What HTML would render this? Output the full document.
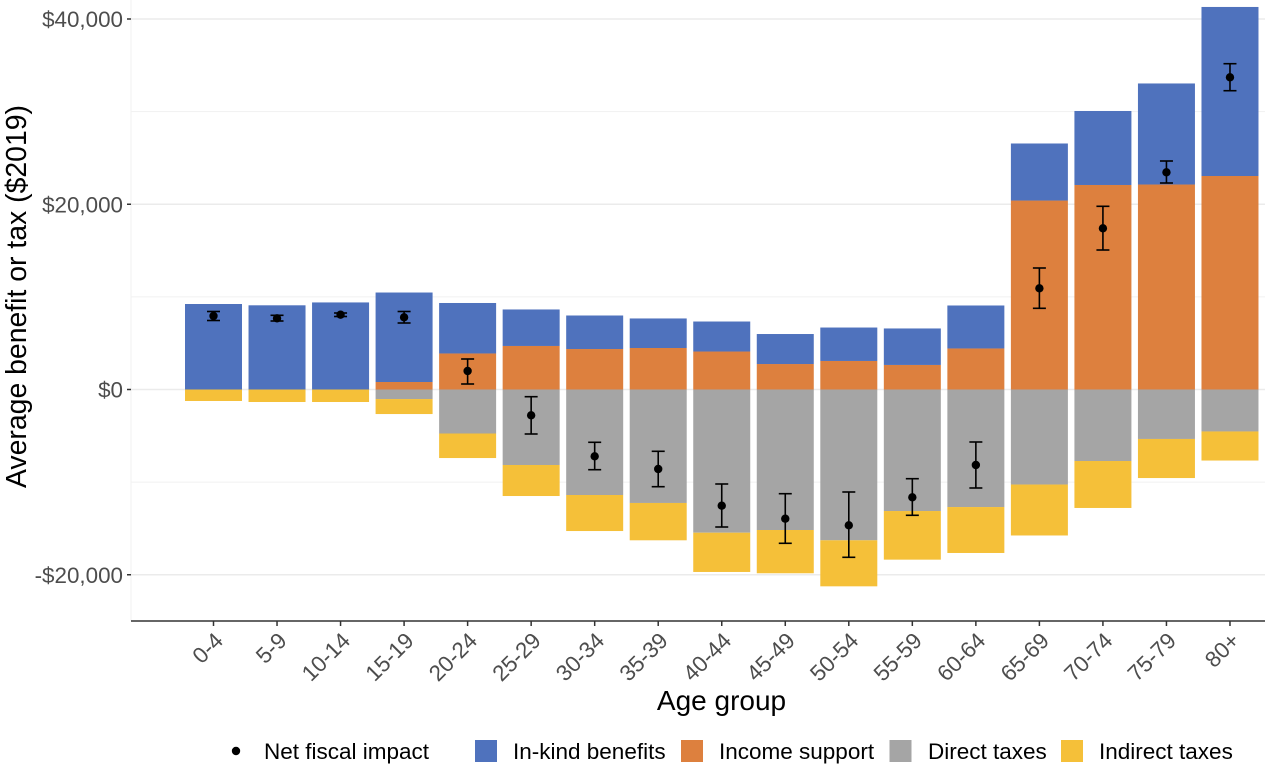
<!DOCTYPE html>
<html>
<head>
<meta charset="utf-8">
<title>Average benefit or tax by age group</title>
<style>
html,body{margin:0;padding:0;background:#fff;width:1265px;height:770px;overflow:hidden}
svg{display:block;font-family:"Liberation Sans",sans-serif;filter:blur(0.35px)}
</style>
</head>
<body>
<svg id="chart" xmlns="http://www.w3.org/2000/svg" width="1265" height="770" viewBox="0 0 1265 770">
  <rect x="0" y="0" width="1265" height="770" fill="#fff"/>
  <g id="grid"></g>
  <g id="bars"></g>
  <g id="points"></g>
  <g id="axes"></g>
  <text transform="translate(26,296.5) rotate(-90)" text-anchor="middle" font-size="28.4" fill="#000">Average benefit or tax ($2019)</text>
  <text x="721.5" y="710" text-anchor="middle" font-size="28" fill="#000">Age group</text>
  <g>
    <g>
      <circle cx="236" cy="751" r="4.2" fill="#000"/>
      <text x="264" y="759" font-size="22.5" fill="#000">Net fiscal impact</text>
    </g>
    <g>
      <rect x="475" y="740" width="22" height="22" fill="#4f72bd"/>
      <text x="513" y="759" font-size="22.5" fill="#000">In-kind benefits</text>
    </g>
    <g>
      <rect x="681" y="740" width="22" height="22" fill="#dd803e"/>
      <text x="719" y="759" font-size="22.5" fill="#000">Income support</text>
    </g>
    <g>
      <rect x="889.5" y="740" width="22" height="22" fill="#a5a5a5"/>
      <text x="928" y="759" font-size="22.5" fill="#000">Direct taxes</text>
    </g>
    <g>
      <rect x="1061" y="740" width="22" height="22" fill="#f5c039"/>
      <text x="1099" y="759" font-size="22.5" fill="#000">Indirect taxes</text>
    </g>
  </g>
</svg>
<script>
const categories = ["0-4","5-9","10-14","15-19","20-24","25-29","30-34","35-39","40-44","45-49","50-54","55-59","60-64","65-69","70-74","75-79","80+"];
const incomeSupport = [0,0,0,810,3890,4700,4370,4480,4100,2750,3080,2650,4430,20400,22080,22130,23050];
const inKindBenefits = [9230,9090,9400,9660,5450,3940,3620,3190,3240,3240,3610,3940,4640,6160,7990,10910,18250];
const directTaxes = [0,0,0,-1030,-4750,-8150,-11390,-12250,-15460,-15170,-16280,-13120,-12690,-10260,-7720,-5340,-4530];
const indirectTaxes = [-1240,-1350,-1350,-1620,-2650,-3350,-3890,-4030,-4240,-4670,-4970,-5250,-4960,-5500,-5070,-4220,-3140];
const netImpact = [7935,7687,8076,7795,1997,-2785,-7212,-8583,-12545,-13948,-14661,-11638,-8151,10925,17403,23449,33705];
const netUpper = [8421,8011,8259,8421,3293,-777,-5700,-6672,-10202,-11250,-11066,-9630,-5668,13117,19778,24669,35173];
const netLower = [7449,7395,7881,7179,594,-4804,-8658,-10494,-14845,-16604,-18116,-13581,-10634,8766,15060,22294,32258];
const majorTicks = [-20000,0,20000,40000];
const minorTicks = [-10000,10000,30000];
const tickLabels = ["-$20,000","$0","$20,000","$40,000"];

const NS = "http://www.w3.org/2000/svg";
const colors = {inKind:"#4f72bd", income:"#dd803e", direct:"#a5a5a5", indirect:"#f5c039"};
const panelLeft = 131, panelRight = 1265, panelBottom = 621;
const barWidth = 57;

function xScale(i){ return 213.5 + i * 63.53; }
function yScale(v){ return 389.5 - v * 0.0092625; }
function make(tag, parent, attrs){
  const el = document.createElementNS(NS, tag);
  for (const k in attrs) el.setAttribute(k, attrs[k]);
  parent.appendChild(el);
  return el;
}
function slug(s){ return s.replace(/\+/g, "-plus"); }

const grid = document.getElementById("grid");
const bars = document.getElementById("bars");
const points = document.getElementById("points");
const axes = document.getElementById("axes");

/* panel edge */
const edge = make("line", grid, {x1:panelLeft, x2:panelLeft, y1:0, y2:panelBottom, stroke:"#f0f0f0", "stroke-width":1});



minorTicks.forEach(function(v){
  const l = make("line", grid, {x1:panelLeft, x2:panelRight, y1:yScale(v), y2:yScale(v), stroke:"#f1f1f1", "stroke-width":1});
  
  
});
majorTicks.forEach(function(v, i){
  const y = yScale(v);
  const l = make("line", grid, {x1:panelLeft, x2:panelRight, y1:y, y2:y, stroke:"#ebebeb", "stroke-width":1.6});
  
  
  const t = make("line", axes, {x1:panelLeft-4, x2:panelLeft, y1:y, y2:y, stroke:"#333", "stroke-width":1.5});
  
  
  const lab = make("text", axes, {x:panelLeft-8, y:y+8, "text-anchor":"end", "font-size":22.4, fill:"#4d4d4d"});
  lab.textContent = tickLabels[i];
  
  
});

function segment(i, from, to, color, name){
  if (from === to) return;
  const y1 = yScale(Math.max(from, to)), y2 = yScale(Math.min(from, to));
  const r = make("rect", bars, {x:xScale(i)-barWidth/2, y:y1, width:barWidth, height:y2-y1, fill:color});
  
  
}

categories.forEach(function(cat, i){
  segment(i, 0, incomeSupport[i], colors.income, 'income-support');
  segment(i, incomeSupport[i], incomeSupport[i] + inKindBenefits[i], colors.inKind, 'in-kind-benefits');
  segment(i, 0, directTaxes[i], colors.direct, 'direct-taxes');
  segment(i, directTaxes[i], directTaxes[i] + indirectTaxes[i], colors.indirect, 'indirect-taxes');

  const x = xScale(i);
  const stem = make("line", points, {x1:x, x2:x, y1:yScale(netUpper[i]), y2:yScale(netLower[i]), stroke:"#000", "stroke-width":1.6});
  
  
  const capTop = make("line", points, {x1:x-6.5, x2:x+6.5, y1:yScale(netUpper[i]), y2:yScale(netUpper[i]), stroke:"#000", "stroke-width":1.6});
  
  
  const capBottom = make("line", points, {x1:x-6.5, x2:x+6.5, y1:yScale(netLower[i]), y2:yScale(netLower[i]), stroke:"#000", "stroke-width":1.6});
  
  
  const dot = make("circle", points, {cx:x, cy:yScale(netImpact[i]), r:4.2, fill:"#000"});
  
  

  const tick = make("line", axes, {x1:x, x2:x, y1:panelBottom, y2:panelBottom+5, stroke:"#333", "stroke-width":1.5});
  
  
  const ax = x + 11, ay = panelBottom + 21;
  const lab = make("text", axes, {x:ax, y:ay, "text-anchor":"end", "font-size":22.4, fill:"#4d4d4d", transform:"rotate(-45 " + ax + " " + ay + ")"});
  lab.textContent = cat;
  
  
});

const axisLine = make("line", axes, {x1:panelLeft, x2:panelRight, y1:panelBottom, y2:panelBottom, stroke:"#333", "stroke-width":1.5});


</script>
</body>
</html>
